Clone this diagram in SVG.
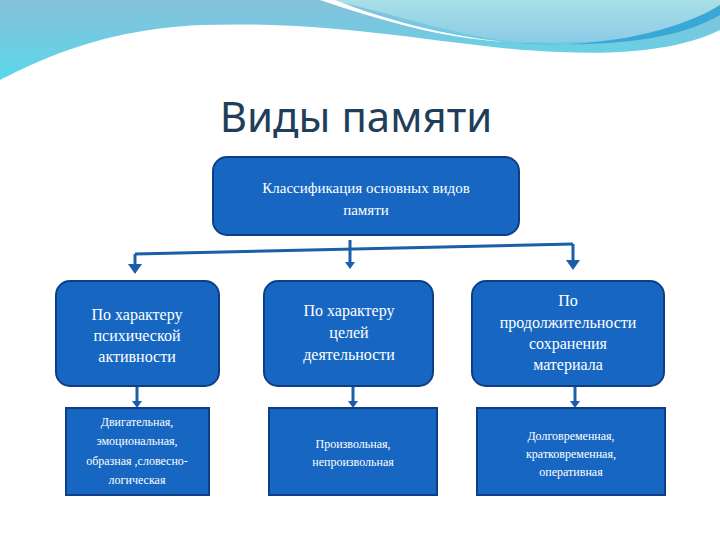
<svg xmlns="http://www.w3.org/2000/svg" width="720" height="540" viewBox="0 0 720 540">
<defs>
<linearGradient id="g1" x1="0" y1="0" x2="0" y2="1"><stop offset="0" stop-color="#86c0da"/><stop offset="1" stop-color="#5ad8ea"/></linearGradient>
<linearGradient id="g2" x1="0" y1="0" x2="0" y2="1"><stop offset="0" stop-color="#a8e0e6"/><stop offset="1" stop-color="#8ccbe8"/></linearGradient>
<marker id="ar" viewBox="0 0 10 10" refX="5" refY="8" markerWidth="3" markerHeight="3" orient="auto-start-reverse"><path d="M0,0 L10,5 L0,10 z" fill="#1a5fa8"/></marker>
<style>
.b{fill:#1767c2;stroke:#0e3f86;stroke-width:2}
.t{font-family:"Liberation Serif",serif;fill:#fff;text-anchor:middle}
.c{stroke:#1a5fa8;stroke-width:3;fill:none}
.h{fill:#1a5fa8}
</style>
</defs>
<rect width="720" height="540" fill="#fff"/>
<path d="M0,0 H720 V30 C680,50 620,55 560,52 C450,48 350,20 200,25 C100,30 40,60 0,80 Z" fill="url(#g1)"/>
<path d="M330,0 H720 V5 C700,25 650,45 520,42 C450,35 400,15 330,0 Z" fill="url(#g2)"/>
<path d="M520,43 C600,50 680,30 720,5 V15 C680,38 620,48 520,43 Z" fill="#3aa8d6"/>
<path d="M320,0 C380,20 440,38 505,42 C440,35 380,18 335,0 Z" fill="#fff"/>
<text x="356" y="132" font-family="Noto Sans, sans-serif" font-size="42" fill="#1f3e5a" text-anchor="middle">Виды памяти</text>
<g id="connectors">
<path class="c" d="M135,254 L573,244"/>
<path class="c" d="M350,240 V264"/>
<path class="c" d="M135,254 V270"/>
<path class="c" d="M573,244 V266"/>
<path class="c" d="M137,386 V402"/><path class="c" d="M353,386 V402"/><path class="c" d="M575,386 V402"/>
<path class="h" d="M128,264 h14 l-7,10 z"/><path class="h" d="M345,262 h10 l-5,7 z"/><path class="h" d="M566,260 h14 l-7,10 z"/>
<path class="h" d="M132,401 h10 l-5,7 z"/><path class="h" d="M348,401 h10 l-5,7 z"/><path class="h" d="M570,401 h10 l-5,7 z"/>
</g>
<g id="root"><rect class="b" x="213" y="157" width="306" height="78" rx="14"/>
<text class="t" font-size="15"><tspan x="366" y="193">Классификация  основных видов</tspan><tspan x="366" y="215">памяти</tspan></text></g>
<g id="n1"><rect class="b" x="56" y="281" width="163" height="105" rx="14"/>
<text class="t" font-size="16"><tspan x="137" y="320">По характеру</tspan><tspan x="137" y="341">психической</tspan><tspan x="137" y="362">активности</tspan></text></g>
<g id="n2"><rect class="b" x="264" y="281" width="169" height="105" rx="14"/>
<text class="t" font-size="16"><tspan x="349" y="316">По характеру</tspan><tspan x="349" y="338">целей</tspan><tspan x="349" y="360">деятельности</tspan></text></g>
<g id="n3"><rect class="b" x="472" y="281" width="192" height="105" rx="14"/>
<text class="t" font-size="16"><tspan x="568" y="306">По</tspan><tspan x="568" y="328">продолжительности</tspan><tspan x="568" y="349">сохранения</tspan><tspan x="568" y="370">материала</tspan></text></g>
<g id="b1"><rect class="b" x="66" y="408" width="143" height="87"/>
<text class="t" font-size="12"><tspan x="137" y="426">Двигательная,</tspan><tspan x="137" y="445">эмоциональная,</tspan><tspan x="137" y="465">образная ,словесно-</tspan><tspan x="137" y="484">логическая</tspan></text></g>
<g id="b2"><rect class="b" x="269" y="408" width="168" height="87"/>
<text class="t" font-size="12"><tspan x="353" y="448">Произвольная,</tspan><tspan x="353" y="466">непроизвольная</tspan></text></g>
<g id="b3"><rect class="b" x="477" y="408" width="188" height="87"/>
<text class="t" font-size="12"><tspan x="571" y="440">Долговременная,</tspan><tspan x="571" y="458">кратковременная,</tspan><tspan x="571" y="476">оперативная</tspan></text></g>
</svg>
